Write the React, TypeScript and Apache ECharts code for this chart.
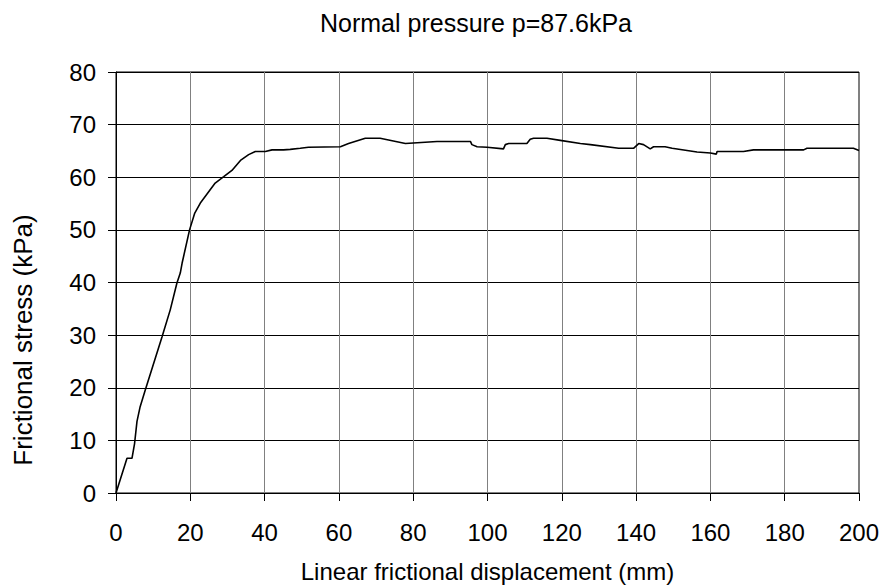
import React, { useEffect, useRef } from "react";
import * as echarts from "echarts";

const displacement = [
  0, 2.96, 4.3, 5.0, 5.65, 6.5, 7.9, 12.4, 14.6, 16.4, 17.3, 17.8, 19.8, 21.2, 22.7, 26.7, 29.0, 31.2, 33.5,
  35.7, 37.5, 40.2, 42.0, 45.1, 46.9, 49.6, 51.8, 60.4, 62.6, 67.1, 71.1, 77.9, 86.4, 95.4, 95.8, 97.2,
  99.9, 104.3, 104.8, 105.7, 110.6, 111.5, 112.4, 116.0, 119.6, 125.0, 127.7, 135.3, 139.3, 140.7, 142.0,
  143.8, 144.7, 147.8, 149.7, 156.4, 160.0, 161.6, 161.8, 168.9, 171.6, 185.1, 186.0, 198.5, 200.0,
];
const stress = [
  0, 6.6, 6.6, 9.4, 13.6, 16.4, 19.6, 29.7, 34.8, 39.9, 41.8, 43.7, 50.0, 53.2, 55.1, 58.9, 60.1, 61.3, 63.2,
  64.3, 64.9, 64.9, 65.2, 65.2, 65.3, 65.5, 65.7, 65.8, 66.4, 67.4, 67.4, 66.4, 66.8, 66.8, 66.2, 65.8,
  65.7, 65.4, 66.2, 66.4, 66.4, 67.2, 67.4, 67.4, 67.0, 66.4, 66.2, 65.5, 65.5, 66.4, 66.2,
  65.4, 65.8, 65.8, 65.5, 64.8, 64.6, 64.4, 64.9, 64.9, 65.2, 65.2, 65.5, 65.5, 65.1,
];

const title = "Normal pressure p=87.6kPa";
const xName = "Linear frictional displacement (mm)";
const yName = "Frictional stress (kPa)";

export default function App() {
  const ref = useRef<HTMLDivElement>(null);
  useEffect(() => {
    if (!ref.current) return;
    const chart = echarts.init(ref.current, null, { renderer: "svg" });
    const font = "'Liberation Sans', Arial, sans-serif";
    chart.setOption({
      animation: false,
      backgroundColor: "#ffffff",
      textStyle: { fontFamily: font },
      title: {
        text: title,
        left: 476,
        textAlign: "center",
        top: 10,
        padding: 0,
        textStyle: { fontFamily: font, fontSize: 25, fontWeight: "normal", color: "#000" },
      },
      grid: {
        left: 116,
        right: 21,
        top: 72,
        bottom: 95,
        containLabel: false,
        outerBoundsMode: "none",
        show: true,
        borderColor: "#000",
        borderWidth: 1,
      },
      graphic: [
        {
          type: "text",
          x: 23,
          y: 340,
          rotation: Math.PI / 2,
          style: {
            text: yName,
            fontFamily: font,
            fontSize: 26,
            fill: "#000",
            align: "center",
            verticalAlign: "middle",
          },
        },
      ],
      xAxis: {
        type: "value",
        min: 0,
        max: 200,
        interval: 20,
        name: xName,
        nameLocation: "middle",
        nameGap: 66,
        nameTextStyle: { fontFamily: font, fontSize: 24, color: "#000" },
        axisLine: { show: true, onZero: false, lineStyle: { color: "#000", width: 1 } },
        axisTick: { show: true, inside: false, length: 8, lineStyle: { color: "#000" } },
        axisLabel: { fontFamily: font, fontSize: 24, color: "#000", margin: 27 },
        splitLine: { show: true, lineStyle: { color: "#808080", width: 1 } },
      },
      yAxis: {
        type: "value",
        min: 0,
        max: 80,
        interval: 10,
        axisLine: { show: true, onZero: false, lineStyle: { color: "#000", width: 1 } },
        axisTick: { show: true, inside: false, length: 8, lineStyle: { color: "#000" } },
        axisLabel: { fontFamily: font, fontSize: 24, color: "#000", margin: 20 },
        splitLine: { show: true, lineStyle: { color: "#000", width: 1 } },
      },
      series: [
        {
          type: "line",
          data: displacement.map((x, i) => [x, stress[i]]),
          showSymbol: false,
          symbol: "none",
          lineStyle: { color: "#000", width: 1.6 },
        },
      ],
    });
    return () => chart.dispose();
  }, []);
  return (
    <div
      ref={ref}
      style={{ width: 880, height: 588, position: "absolute", left: 0, top: 0 }}
    />
  );
}
